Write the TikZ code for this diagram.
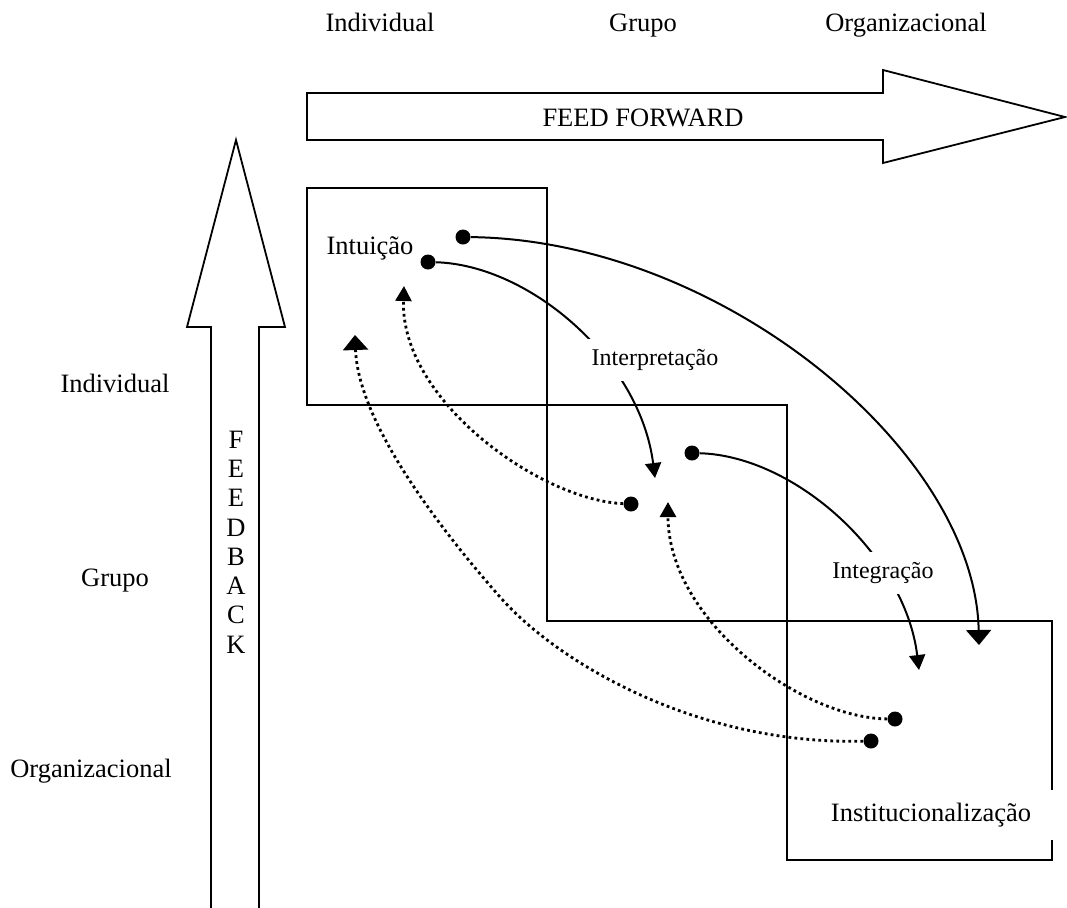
\documentclass[tikz,border=0pt]{standalone}
\usepackage{fontspec}
\setmainfont{Liberation Serif}
\usetikzlibrary{arrows.meta}
\begin{document}
\begin{tikzpicture}[x=0.5pt,y=-0.5pt,
  lbl/.style={font=\fontsize{13.25}{15}\selectfont, inner sep=0pt},
  slbl/.style={font=\fontsize{12}{14}\selectfont, fill=white, inner sep=5pt},
  dotn/.style={circle, fill=black, inner sep=0pt, minimum size=7.5pt},
  bigarrow/.style={draw, line width=0.9pt, line join=miter, fill=white},
  stage/.style={draw, line width=1pt},
  flow/.style={line width=1pt, -{Triangle[width=8pt,length=7.5pt]}},
  flowbig/.style={line width=1pt, -{Triangle[width=12.5pt,length=7.5pt]}},
  back/.style={line width=1.4pt, dash pattern=on 1.4pt off 1.6pt, -{Triangle[width=8pt,length=7.5pt]}},
  backbig/.style={line width=1.4pt, dash pattern=on 1.4pt off 1.6pt, -{Triangle[width=12.5pt,length=7.5pt]}},
]
\useasboundingbox (0,0) rectangle (1067,907);
\fill[white] (0,0) rectangle (1067,907);

% column labels
\node[lbl, anchor=base] (cI) at (380,31) {Individual};
\node[lbl, anchor=base] (cG) at (643,31) {Grupo};
\node[lbl, anchor=base] (cO) at (906,31) {Organizacional};

% row labels
\node[lbl, anchor=base] (rI) at (115,392) {Individual};
\node[lbl, anchor=base] (rG) at (115,586) {Grupo};
\node[lbl, anchor=base] (rO) at (91,777) {Organizacional};

% feed forward arrow
\draw[bigarrow] (307,93) -- (883,93) -- (883,70) -- (1065,117) -- (883,163) -- (883,140) -- (307,140) -- cycle;
\node[lbl] (ff) at (643,118) {FEED FORWARD};

% feedback arrow
\draw[bigarrow] (211,910) -- (211,327) -- (187,327) -- (236,140) -- (285,327) -- (259,327) -- (259,910);
\node[lbl, align=center, font=\fontsize{13.25}{14.65}\selectfont] (fb) at (236,542) {F\\E\\E\\D\\B\\A\\C\\K};

% stage boxes
\draw[stage] (307,188) rectangle (547,405);
\draw[stage] (547,405) rectangle (787,621);
\draw[stage] (787,621) rectangle (1052,860);

\node[lbl] (intu) at (370,248) {Intuição};
\node[lbl, fill=white, minimum width=123pt, minimum height=25pt] (inst) at (931,815) {};
\node[lbl] at (931,815) {Institucionalização};

% dots and tip coordinates
\node[dotn] (d1) at (463,237) {};
\node[dotn] (d2) at (428,262) {};
\node[dotn] (d3) at (692,453) {};
\node[dotn] (d4) at (631,504) {};
\node[dotn] (d5) at (895,719) {};
\node[dotn] (d6) at (871,741) {};
\coordinate (tA) at (979,645);
\coordinate (tB) at (655,478);
\coordinate (tC) at (919,670);
\coordinate (tD) at (404,286);
\coordinate (tE) at (668,502);
\coordinate (tF) at (355,335);

% feed forward flows
\draw[flowbig] (d1) .. controls (720,240) and (975,450) .. (tA);
\draw[flow] (d2) .. controls (530,265) and (640,360) .. (tB);
\draw[flow] (d3) .. controls (795,456) and (905,555) .. (tC);

% feedback flows
\draw[back] (d4) .. controls (540,500) and (400,400) .. (tD);
\draw[back] (d5) .. controls (800,718) and (668,620) .. (tE);
\draw[backbig] (d6) .. controls (700,745) and (560,665) .. (500,597) .. controls (434,522) and (358,420) .. (tF);

% process labels
\node[slbl] (interp) at (655,360) {Interpretação};
\node[slbl] (integ) at (883,573) {Integração};
\end{tikzpicture}
\end{document}
